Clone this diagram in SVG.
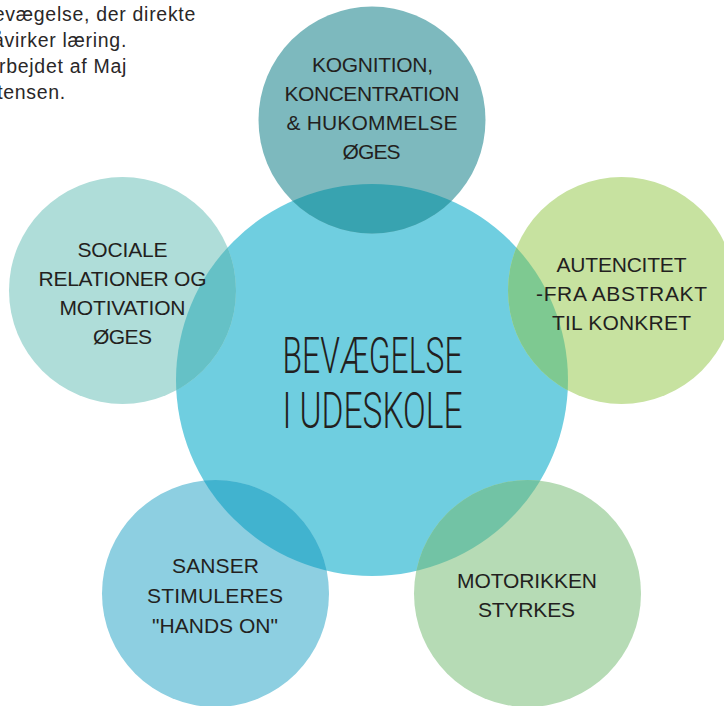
<svg xmlns="http://www.w3.org/2000/svg" width="724" height="706" viewBox="0 0 724 706">
  <defs>
    <clipPath id="clip-core">
      <circle cx="372" cy="380" r="196"/>
    </clipPath>
    <style>
      .note { font-family: "Liberation Sans", Arial, sans-serif; font-size: 19.5px; fill: #2a2728; letter-spacing: 0.7px; text-anchor: end; }
      .label { font-family: "Liberation Sans", Arial, sans-serif; font-size: 21px; fill: #231f20; text-anchor: middle; }
      .title { font-family: Roboto, "Open Sans", "Liberation Sans", sans-serif; font-weight: 300; font-size: 50px; fill: #231f20; text-anchor: middle; }
    </style>
  </defs>

  <rect width="724" height="706" fill="#ffffff"/>

  <!-- caption in the upper-left corner, running past the left edge -->
  <g id="caption">
    <text class="note" x="196" y="21">bevægelse, der direkte</text>
    <text class="note" x="127" y="47">påvirker læring.</text>
    <text class="note" x="127" y="73">rbejdet af Maj</text>
    <text class="note" x="66" y="99">tensen.</text>
  </g>

  <!-- central circle -->
  <g id="core">
    <circle cx="372" cy="380" r="196" fill="#6fcee0"/>
  </g>

  <!-- satellites: base disc, the part shared with the core, and label -->
  <g id="node-kognition">
    <circle cx="372" cy="120" r="113.5" fill="#7db9be"/>
    <circle cx="372" cy="120" r="113.5" fill="#38a3b0" clip-path="url(#clip-core)"/>
  </g>
  <g id="node-sociale">
    <circle cx="122.5" cy="290.5" r="113.5" fill="#afddd9"/>
    <circle cx="122.5" cy="290.5" r="113.5" fill="#65c1c6" clip-path="url(#clip-core)"/>
  </g>
  <g id="node-autencitet">
    <circle cx="621.5" cy="290.5" r="113.5" fill="#c7e2a0"/>
    <circle cx="621.5" cy="290.5" r="113.5" fill="#7ec991" clip-path="url(#clip-core)"/>
  </g>
  <g id="node-sanser">
    <circle cx="215.5" cy="593.5" r="113.5" fill="#8dcfe1"/>
    <circle cx="215.5" cy="593.5" r="113.5" fill="#41b3cf" clip-path="url(#clip-core)"/>
  </g>
  <g id="node-motorik">
    <circle cx="527.5" cy="593.5" r="113.5" fill="#b6dbb5"/>
    <circle cx="527.5" cy="593.5" r="113.5" fill="#72c3a5" clip-path="url(#clip-core)"/>
  </g>

  <!-- labels -->
  <g id="core-label">
    <text class="title" x="372.5" y="373" textLength="180" lengthAdjust="spacingAndGlyphs">BEVÆGELSE</text>
    <text class="title" x="372.5" y="428" textLength="180" lengthAdjust="spacingAndGlyphs">I UDESKOLE</text>
  </g>
  <g id="label-kognition">
    <text class="label" x="372.5" y="72" textLength="121">KOGNITION,</text>
    <text class="label" x="372" y="101" textLength="175">KONCENTRATION</text>
    <text class="label" x="372" y="130" textLength="171">&amp; HUKOMMELSE</text>
    <text class="label" x="371.5" y="159" textLength="58">ØGES</text>
  </g>
  <g id="label-sociale">
    <text class="label" x="122.5" y="257" textLength="90">SOCIALE</text>
    <text class="label" x="122.5" y="286" textLength="168">RELATIONER OG</text>
    <text class="label" x="122.5" y="315" textLength="126">MOTIVATION</text>
    <text class="label" x="122.5" y="344" textLength="59">ØGES</text>
  </g>
  <g id="label-autencitet">
    <text class="label" x="621.5" y="272" textLength="130">AUTENCITET</text>
    <text class="label" x="621.5" y="300.5" textLength="171">-FRA ABSTRAKT</text>
    <text class="label" x="621.5" y="329.5" textLength="139">TIL KONKRET</text>
  </g>
  <g id="label-sanser">
    <text class="label" x="215.5" y="573" textLength="87">SANSER</text>
    <text class="label" x="215" y="603" textLength="136">STIMULERES</text>
    <text class="label" x="215" y="632.5" textLength="126">"HANDS ON"</text>
  </g>
  <g id="label-motorik">
    <text class="label" x="527" y="588" textLength="140">MOTORIKKEN</text>
    <text class="label" x="526.5" y="617" textLength="97">STYRKES</text>
  </g>
</svg>
